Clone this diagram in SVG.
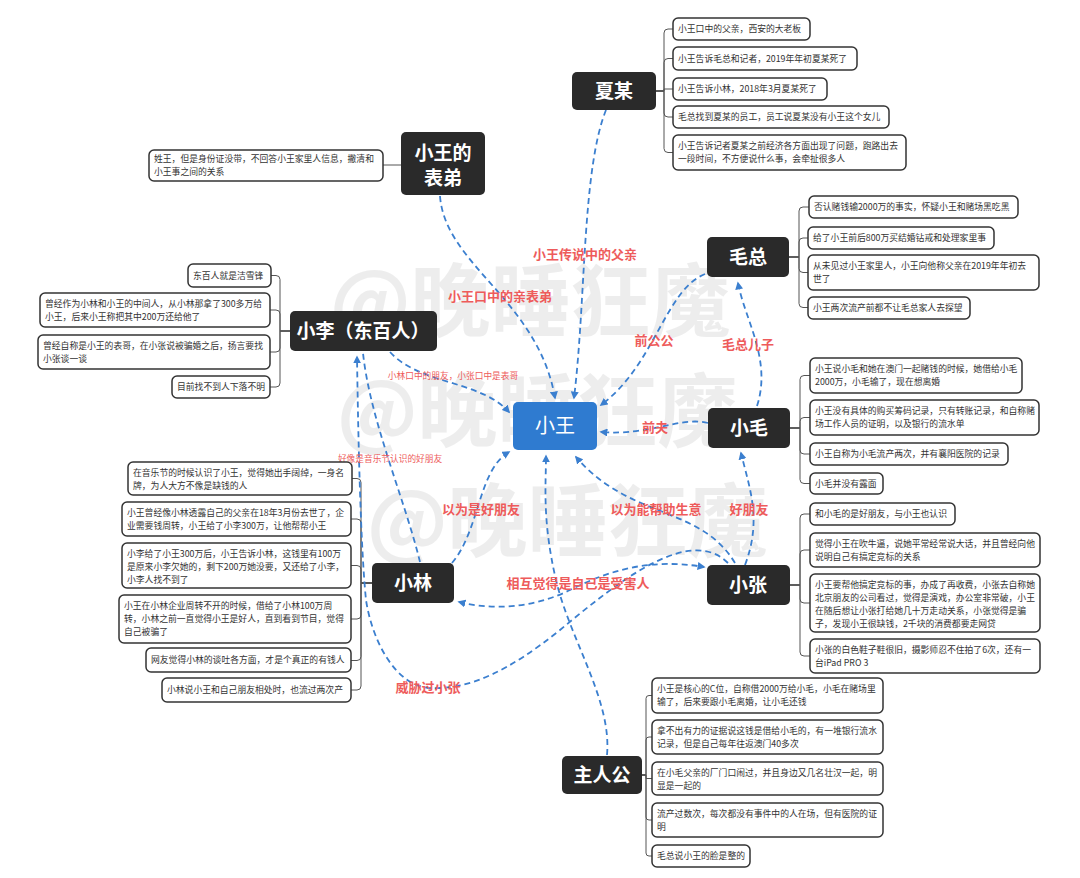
<svg xmlns="http://www.w3.org/2000/svg" width="1080" height="878" viewBox="0 0 1080 878">
<style>
text{font-family:"Noto Sans CJK SC","Noto Sans",sans-serif}
.wm{font-size:80px;font-weight:700;fill:#d4d4d4;opacity:0.4}
.node rect{fill:#2a2a2a}
.nt{font-size:19px;font-weight:700;fill:#fff;text-anchor:middle}
.note{fill:#fff;stroke:#333;stroke-width:1.5}
.tx{font-size:8.8px;fill:#333}
.br{fill:none;stroke:#555;stroke-width:1}
.rel{fill:none;stroke:#3b7fcf;stroke-width:1.8;stroke-dasharray:6 4}
.lb{font-size:13px;font-weight:700;fill:#ee5b5b;text-anchor:middle}
.ls{font-size:8.7px;fill:#ee5b5b;text-anchor:middle}
</style>
<defs>
<marker id="ar" viewBox="0 0 10 10" refX="8" refY="5" markerWidth="8" markerHeight="8" markerUnits="userSpaceOnUse" orient="auto-start-reverse">
<path d="M0 0 L10 5 L0 10 Z" fill="#3b7fcf"/>
</marker>
</defs>
<rect width="1080" height="878" fill="#fff"/>
<g id="watermark">
<text class="wm" x="330" y="330">@晚睡狂魔</text>
<text class="wm" x="337" y="440">@晚睡狂魔</text>
<text class="wm" x="367" y="550">@晚睡狂魔</text>
</g>
<g id="brackets">
<path class="br" d="M656 91 H664 V33 Q664 29 668 29 H673"/>
<path class="br" d="M656 91 H664 V62.5 Q664 58.5 668 58.5 H673"/>
<path class="br" d="M656 91 H664 V89 H673"/>
<path class="br" d="M656 91 H664 V113 Q664 117 668 117 H673"/>
<path class="br" d="M656 91 H664 V148.5 Q664 152.5 668 152.5 H673"/>
<path class="br" d="M383 165 H401"/>
<path class="br" d="M290 331 H280 V279.5 Q280 275.5 276 275.5 H271"/>
<path class="br" d="M290 331 H280 V314 Q280 310 276 310 H270"/>
<path class="br" d="M290 331 H280 V348 Q280 352 276 352 H270"/>
<path class="br" d="M290 331 H280 V383 Q280 387 276 387 H270"/>
<path class="br" d="M789 257 H799 V211 Q799 207 803 207 H809"/>
<path class="br" d="M789 257 H799 V242 Q799 238 803 238 H808"/>
<path class="br" d="M789 257 H799 V268.5 Q799 272.5 803 272.5 H808"/>
<path class="br" d="M789 257 H799 V303.5 Q799 307.5 803 307.5 H808"/>
<path class="br" d="M790 428 H800 V379.5 Q800 375.5 804 375.5 H810"/>
<path class="br" d="M790 428 H800 V421.5 Q800 417.5 804 417.5 H810"/>
<path class="br" d="M790 428 H800 V450 Q800 454 804 454 H810"/>
<path class="br" d="M790 428 H800 V479.5 Q800 483.5 804 483.5 H810"/>
<path class="br" d="M790 585 H800 V518 Q800 514 804 514 H810"/>
<path class="br" d="M790 585 H800 V554 Q800 550 804 550 H810"/>
<path class="br" d="M790 585 H800 V599 Q800 603 804 603 H810"/>
<path class="br" d="M790 585 H800 V652 Q800 656 804 656 H810"/>
<path class="br" d="M372 583 H361 V482.5 Q361 478.5 357 478.5 H352"/>
<path class="br" d="M372 583 H361 V523 Q361 519 357 519 H351"/>
<path class="br" d="M372 583 H361 V569.5 Q361 565.5 357 565.5 H351"/>
<path class="br" d="M372 583 H361 V615 Q361 619 357 619 H351"/>
<path class="br" d="M372 583 H361 V656.5 Q361 660.5 357 660.5 H351"/>
<path class="br" d="M372 583 H361 V686 Q361 690 357 690 H351"/>
<path class="br" d="M642 775 H646 V698.5 Q646 695.5 649 695.5 H652"/>
<path class="br" d="M642 775 H646 V740 Q646 737 649 737 H652"/>
<path class="br" d="M642 775 H646 V778.5 H652"/>
<path class="br" d="M642 775 H646 V817 Q646 820 649 820 H652"/>
<path class="br" d="M642 775 H646 V853 Q646 856 649 856 H652"/>
</g>
<g id="connectors">
<path class="rel" d="M606 110 C582 170 586 300 574 398" marker-end="url(#ar)"/>
<path class="rel" d="M440 196 C445 265 538 300 555 398" marker-end="url(#ar)"/>
<path class="rel" d="M705 274 C665 290 655 365 601 405" marker-end="url(#ar)"/>
<path class="rel" d="M757 406 C772 360 745 320 738 283" marker-end="url(#ar)"/>
<path class="rel" d="M708 423 C680 416 650 436 601 432" marker-end="url(#ar)"/>
<path class="rel" d="M390 352 C420 385 480 380 509 412" marker-end="url(#ar)"/>
<path class="rel" d="M420 562 C405 500 370 420 363 353"/>
<path class="rel" d="M728 563 C690 525 620 580 560 630 C510 670 470 690 430 688 C395 686 372 640 366 600 C360 540 358 420 357 357" marker-end="url(#ar)"/>
<path class="rel" d="M452 563 C480 530 478 470 509 452" marker-end="url(#ar)"/>
<path class="rel" d="M735 563 C700 505 630 520 576 457" marker-end="url(#ar)"/>
<path class="rel" d="M745 565 C762 520 750 490 741 453" marker-end="url(#ar)"/>
<path class="rel" d="M459 602 C500 612 540 605 570 590 C610 570 650 558 704 567" marker-start="url(#ar)" marker-end="url(#ar)"/>
<path class="rel" d="M607 755 C612 700 570 640 556 580 C542 520 546 485 546 456" marker-end="url(#ar)"/>
</g>
<g id="labels">
<text class="lb" x="585" y="259">小王传说中的父亲</text>
<text class="lb" x="500" y="301">小王口中的亲表弟</text>
<text class="lb" x="654" y="345">前公公</text>
<text class="lb" x="748" y="349">毛总儿子</text>
<text class="ls" x="453" y="379">小林口中的朋友，小张口中是表哥</text>
<text class="lb" x="655" y="432">前夫</text>
<text class="ls" x="390" y="462">好像是音乐节认识的好朋友</text>
<text class="lb" x="481" y="514">以为是好朋友</text>
<text class="lb" x="656" y="514">以为能帮助生意</text>
<text class="lb" x="749" y="514">好朋友</text>
<text class="lb" x="578" y="588">相互觉得是自己是受害人</text>
<text class="lb" x="428" y="692">威胁过小张</text>
</g>
<g id="n-xiaowang"><rect x="513" y="402" width="84" height="48" rx="5" fill="#2f7bd0"/><text x="555" y="433" font-size="20" fill="#fff" text-anchor="middle">小王</text></g>
<g id="n-xiamou" class="node"><rect x="572" y="72" width="84" height="38" rx="5"/><text class="nt" x="614" y="98">夏某</text></g>
<g id="n-biaodi" class="node"><rect x="401" y="132" width="84" height="63" rx="5"/><text class="nt" x="443" y="160">小王的</text><text class="nt" x="443" y="185">表弟</text></g>
<g id="n-maozong" class="node"><rect x="707" y="237" width="82" height="40" rx="5"/><text class="nt" x="748" y="264">毛总</text></g>
<g id="n-xiaoli" class="node"><rect x="290" y="311" width="147" height="40" rx="5"/><text class="nt" x="363" y="338">小李（东百人）</text></g>
<g id="n-xiaomao" class="node"><rect x="708" y="408" width="82" height="40" rx="5"/><text class="nt" x="749" y="435">小毛</text></g>
<g id="n-xiaolin" class="node"><rect x="372" y="563" width="82" height="40" rx="5"/><text class="nt" x="413" y="590">小林</text></g>
<g id="n-xiaozhang" class="node"><rect x="707" y="565" width="83" height="40" rx="5"/><text class="nt" x="748" y="592">小张</text></g>
<g id="n-zhurengong" class="node"><rect x="562" y="756" width="80" height="38" rx="5"/><text class="nt" x="602" y="782">主人公</text></g>
<g id="notes-xiamou">
<rect class="note" x="673" y="18" width="137" height="22" rx="5"/><text class="tx" x="678" y="32">小王口中的父亲，西安的大老板</text>
<rect class="note" x="673" y="47" width="184" height="23" rx="5"/><text class="tx" x="678" y="62">小王告诉毛总和记者，2019年年初夏某死了</text>
<rect class="note" x="673" y="78" width="154" height="22" rx="5"/><text class="tx" x="678" y="92">小王告诉小林，2018年3月夏某死了</text>
<rect class="note" x="673" y="106" width="216" height="22" rx="5"/><text class="tx" x="678" y="120">毛总找到夏某的员工，员工说夏某没有小王这个女儿</text>
<rect class="note" x="673" y="135" width="233" height="35" rx="5"/><text class="tx" x="678" y="149">小王告诉记者夏某之前经济各方面出现了问题，跑路出去</text><text class="tx" x="678" y="162">一段时间，不方便说什么事，会牵扯很多人</text>
</g>
<g id="notes-biaodi">
<rect class="note" x="149" y="150" width="234" height="31" rx="5"/><text class="tx" x="154" y="162">姓王，但是身份证没带，不回答小王家里人信息，撇清和</text><text class="tx" x="154" y="175">小王事之间的关系</text>
</g>
<g id="notes-xiaoli">
<rect class="note" x="188" y="264" width="83" height="23" rx="5"/><text class="tx" x="193" y="279">东百人就是洁雪锋</text>
<rect class="note" x="40" y="293" width="230" height="34" rx="5"/><text class="tx" x="45" y="307">曾经作为小林和小王的中间人，从小林那拿了300多万给</text><text class="tx" x="45" y="320">小王，后来小王称把其中200万还给他了</text>
<rect class="note" x="38" y="335" width="232" height="34" rx="5"/><text class="tx" x="43" y="349">曾经自称是小王的表哥，在小张说被骗婚之后，扬言要找</text><text class="tx" x="43" y="362">小张谈一谈</text>
<rect class="note" x="172" y="376" width="98" height="22" rx="5"/><text class="tx" x="177" y="390">目前找不到人下落不明</text>
</g>
<g id="notes-maozong">
<rect class="note" x="809" y="196" width="209" height="22" rx="5"/><text class="tx" x="814" y="210">否认赌钱输2000万的事实，怀疑小王和赌场黑吃黑</text>
<rect class="note" x="808" y="227" width="186" height="22" rx="5"/><text class="tx" x="813" y="241">给了小王前后800万买结婚钻戒和处理家里事</text>
<rect class="note" x="808" y="255" width="231" height="35" rx="5"/><text class="tx" x="813" y="269">从未见过小王家里人，小王向他称父亲在2019年年初去</text><text class="tx" x="813" y="282">世了</text>
<rect class="note" x="808" y="297" width="162" height="22" rx="5"/><text class="tx" x="813" y="311">小王两次流产前都不让毛总家人去探望</text>
</g>
<g id="notes-xiaomao">
<rect class="note" x="810" y="358" width="212" height="35" rx="5"/><text class="tx" x="815" y="372">小王说小毛和她在澳门一起赌钱的时候，她借给小毛</text><text class="tx" x="815" y="385">2000万，小毛输了，现在想离婚</text>
<rect class="note" x="810" y="400" width="229" height="35" rx="5"/><text class="tx" x="815" y="414">小王没有具体的购买筹码记录，只有转账记录，和自称赌</text><text class="tx" x="815" y="427">场工作人员的证明，以及银行的流水单</text>
<rect class="note" x="810" y="443" width="198" height="22" rx="5"/><text class="tx" x="815" y="457">小王自称为小毛流产两次，并有襄阳医院的记录</text>
<rect class="note" x="810" y="473" width="73" height="21" rx="5"/><text class="tx" x="815" y="487">小毛并没有露面</text>
</g>
<g id="notes-xiaozhang">
<rect class="note" x="810" y="503" width="145" height="22" rx="5"/><text class="tx" x="815" y="517">和小毛的是好朋友，与小王也认识</text>
<rect class="note" x="810" y="533" width="230" height="34" rx="5"/><text class="tx" x="815" y="547">觉得小王在吹牛逼，说她平常经常说大话，并且曾经向他</text><text class="tx" x="815" y="560">说明自己有搞定竞标的关系</text>
<rect class="note" x="810" y="574" width="230" height="58" rx="5"/><text class="tx" x="815" y="588">小王要帮他搞定竞标的事，办成了再收费，小张去自称她</text><text class="tx" x="815" y="601">北京朋友的公司看过，觉得是演戏，办公室非常破，小王</text><text class="tx" x="815" y="614">在随后想让小张打给她几十万走动关系，小张觉得是骗</text><text class="tx" x="815" y="627">子，发现小王很缺钱，2千块的消费都要走网贷</text>
<rect class="note" x="810" y="639" width="230" height="34" rx="5"/><text class="tx" x="815" y="653">小张的白色鞋子鞋很旧，摄影师忍不住拍了6次，还有一</text><text class="tx" x="815" y="666">台iPad PRO 3</text>
</g>
<g id="notes-xiaolin">
<rect class="note" x="128" y="462" width="224" height="33" rx="5"/><text class="tx" x="133" y="476">在音乐节的时候认识了小王，觉得她出手阔绰，一身名</text><text class="tx" x="133" y="489">牌，为人大方不像是缺钱的人</text>
<rect class="note" x="122" y="502" width="229" height="34" rx="5"/><text class="tx" x="127" y="516">小王曾经像小林透露自己的父亲在18年3月份去世了，企</text><text class="tx" x="127" y="529">业需要钱周转，小王给了小李300万，让他帮帮小王</text>
<rect class="note" x="122" y="543" width="229" height="45" rx="5"/><text class="tx" x="127" y="557">小李给了小王300万后，小王告诉小林，这钱里有100万</text><text class="tx" x="127" y="570">是原来小李欠她的，剩下200万她没要，又还给了小李，</text><text class="tx" x="127" y="583">小李人找不到了</text>
<rect class="note" x="119" y="595" width="232" height="48" rx="5"/><text class="tx" x="124" y="609">小王在小林企业周转不开的时候，借给了小林100万周</text><text class="tx" x="124" y="622">转，小林之前一直觉得小王是好人，直到看到节目，觉得</text><text class="tx" x="124" y="635">自己被骗了</text>
<rect class="note" x="146" y="648" width="205" height="24" rx="5"/><text class="tx" x="151" y="663">网友觉得小林的谈吐各方面，才是个真正的有钱人</text>
<rect class="note" x="162" y="678" width="189" height="24" rx="5"/><text class="tx" x="167" y="693">小林说小王和自己朋友相处时，也流过两次产</text>
</g>
<g id="notes-zhurengong">
<rect class="note" x="652" y="678" width="231" height="35" rx="5"/><text class="tx" x="657" y="692">小王是核心的C位，自称借2000万给小毛，小毛在赌场里</text><text class="tx" x="657" y="705">输了，后来要跟小毛离婚，让小毛还钱</text>
<rect class="note" x="652" y="720" width="231" height="34" rx="5"/><text class="tx" x="657" y="734">拿不出有力的证据说这钱是借给小毛的，有一堆银行流水</text><text class="tx" x="657" y="747">记录，但是自己每年往返澳门40多次</text>
<rect class="note" x="652" y="762" width="231" height="33" rx="5"/><text class="tx" x="657" y="776">在小毛父亲的厂门口闹过，并且身边又几名壮汉一起，明</text><text class="tx" x="657" y="789">显是一起的</text>
<rect class="note" x="652" y="803" width="231" height="34" rx="5"/><text class="tx" x="657" y="817">流产过数次，每次都没有事件中的人在场，但有医院的证</text><text class="tx" x="657" y="830">明</text>
<rect class="note" x="652" y="845" width="98" height="22" rx="5"/><text class="tx" x="657" y="859">毛总说小王的脸是整的</text>
</g>
</svg>
